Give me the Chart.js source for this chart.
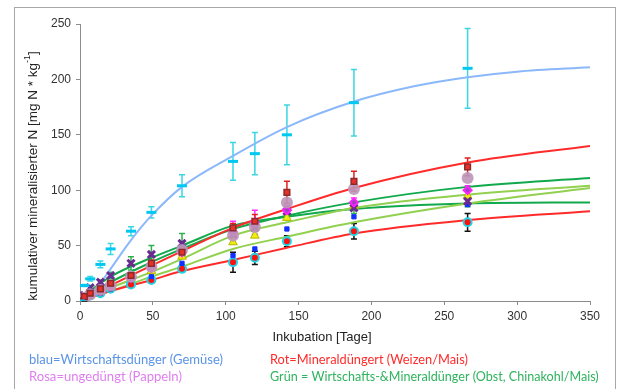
<!DOCTYPE html>
<html>
<head>
<meta charset="utf-8">
<script src="https://cdn.jsdelivr.net/npm/chart.js@4.4.1/dist/chart.umd.min.js"></script>
<style>
  html, body { margin: 0; padding: 0; background: #fff; }
  #wrap { width: 618px; height: 389px; }
</style>
</head>
<body>
<div id="wrap"><canvas id="chart" width="618" height="389"></canvas></div>
<script>
// Probenahme-Tage
var tage = [0, 3, 7, 14, 21, 35, 49, 70, 105, 120, 142, 188, 266];

var gemuese     = [0, 14, 20, 33, 47, 63, 80, 104, 126, 133, 150, 179, 210];
var gemueseErr  = [0, 1, 2, 3, 5, 4, 5, 10, 17, 19, 27, 30, 36];
var rotQuadrat  = [0, 4, 7, 11, 16, 23, 34, 44, 66, 72, 98, 108, 121];
var rotQuadErr  = [0, 1, 1, 2, 2, 3, 3, 4, 4, 6, 10, 9, 8];
var malve       = [0, 3, 6, 10, 14, 22, 31, 46, 59, 67, 89, 101, 111];
var rosa        = [0, 3, 6, 10, 14, 21, 30, 44, 62, 71, 82, 89, 100];
var rosaErr     = [0, 1, 1, 2, 2, 3, 3, 4, 10, 11, 4, 4, 4];
var lila        = [0, 5, 12, 17, 23, 34, 42, 52, 60, 66, 81, 84, 90];
var lilaErr     = [0, 1, 2, 2, 3, 6, 8, 9, 8, 6, 5, 5, 5];
var gelb        = [0, 3, 5, 9, 13, 21, 27, 40, 53, 59, 75, 86, 95];
var blau        = [0, 2, 4, 7, 11, 20, 22, 34, 41, 47, 65, 76, 87];
var rotKreis    = [0, 1, 5, 7, 11, 15, 19, 29, 35, 39, 54, 63, 71];
var rotKreisErr = [0, 1, 1, 1, 2, 2, 2, 3, 9, 6, 5, 7, 8];

// Anpassungskurven
var fitBlauTage = [3, 9, 14, 21, 35, 49, 70, 105, 142, 188, 230, 266, 300, 350];
var fitBlau     = [0, 8, 16, 29, 55, 77, 103, 131, 157, 180, 194, 202, 207, 211];
var fitTage     = [0, 7, 21, 49, 70, 105, 142, 188, 266, 350];
var fitRotOben  = [0, 4, 14, 32, 45, 66, 83, 102, 125, 140];
var fitRotUnten = [0, 3, 9, 19, 27, 37, 48, 61, 73, 81];
var fitGruenA   = [0, 9, 22, 39, 50, 68, 76, 83, 88, 89];
var fitGruenB   = [0, 6, 17, 35, 47, 65, 77, 89, 103, 111];
var fitHellA    = [0, 4, 12, 26, 38, 59, 71, 84, 96, 104];
var fitHellB    = [0, 3, 9, 22, 31, 47, 58, 71, 88, 102];

function punkte(xs, ys) {
    var out = [];
    for (var i = 0; i < xs.length; i++) out.push({ x: xs[i], y: ys[i] });
    return out;
}

function kurve(xs, ys, farbe) {
    return {
        data: punkte(xs, ys), showLine: true, borderColor: farbe, borderWidth: 2,
        pointRadius: 0, cubicInterpolationMode: 'monotone', order: 20
    };
}

function marker(ys, opts) {
    var ds = { data: punkte(tage, ys), showLine: false, order: 5 };
    for (var k in opts) ds[k] = opts[k];
    return ds;
}

var datasets = [
    kurve(fitBlauTage, fitBlau, '#8ab8fb'),
    kurve(fitTage, fitRotOben, '#ff2a2a'),
    kurve(fitTage, fitRotUnten, '#ff2a2a'),
    kurve(fitTage, fitHellA, '#92d050'),
    kurve(fitTage, fitHellB, '#92d050'),
    kurve(fitTage, fitGruenA, '#12a94c'),
    kurve(fitTage, fitGruenB, '#12a94c'),
    marker(rotKreis, { pointStyle: 'circle', pointRadius: 4, backgroundColor: '#ff1010', borderColor: '#20d4e4', borderWidth: 2, err: rotKreisErr, errColor: '#111', order: 9 }),
    marker(blau, { pointStyle: 'rect', pointRadius: 3, backgroundColor: '#1030ff', borderColor: '#1030ff', borderWidth: 1, order: 8 }),
    marker(gelb, { pointStyle: 'triangle', pointRadius: 5, backgroundColor: '#eeee10', borderColor: '#b8b800', borderWidth: 1, order: 7 }),
    marker(lila, { pointStyle: 'crossRot', pointRadius: 5, borderColor: '#6a2a90', borderWidth: 3, err: lilaErr, errColor: '#30b050', order: 6 }),
    marker(rosa, { pointStyle: 'rectRot', pointRadius: 4, backgroundColor: '#a040c0', borderColor: '#ff20ff', borderWidth: 2, err: rosaErr, errColor: '#ff30ff', order: 5 }),
    marker(malve, { pointStyle: 'circle', pointRadius: 6, backgroundColor: 'rgba(190,150,185,0.9)', borderColor: 'rgba(190,150,185,0.9)', borderWidth: 0, order: 4 }),
    marker(rotQuadrat, { pointStyle: 'rect', pointRadius: 4, backgroundColor: '#e8302a', borderColor: '#8a2a2a', borderWidth: 1.5, err: rotQuadErr, errColor: '#e02020', order: 3 }),
    marker(gemuese, { pointStyle: 'line', pointRadius: 5, borderColor: '#00c8f0', borderWidth: 3, err: gemueseErr, errColor: '#3ad6e2', order: 2 })
];

// Fehlerbalken + Rahmen + Texte
var zusatz = {
    id: 'zusatz',
    beforeDatasetsDraw: function (chart) {
        var ctx = chart.ctx, xs = chart.scales.x, ys = chart.scales.y;
        chart.data.datasets.forEach(function (ds) {
            if (!ds.err) return;
            ctx.save();
            ctx.strokeStyle = ds.errColor;
            ctx.lineWidth = 1.5;
            for (var i = 0; i < ds.data.length; i++) {
                var e = ds.err[i];
                if (!e) continue;
                var px = xs.getPixelForValue(ds.data[i].x);
                var top = ys.getPixelForValue(ds.data[i].y + e);
                var bot = ys.getPixelForValue(ds.data[i].y - e);
                ctx.beginPath();
                ctx.moveTo(px, top); ctx.lineTo(px, bot);
                ctx.moveTo(px - 3, top); ctx.lineTo(px + 3, top);
                ctx.moveTo(px - 3, bot); ctx.lineTo(px + 3, bot);
                ctx.stroke();
            }
            ctx.restore();
        });
    },
    afterDraw: function (chart) {
        var ctx = chart.ctx;
        ctx.save();
        ctx.strokeStyle = '#a8a8a8';
        ctx.lineWidth = 1;
        ctx.strokeRect(14.5, 7.5, 601, 400);

        // Achsentitel
        ctx.fillStyle = '#222';
        ctx.font = '13px "Liberation Sans", Arial, sans-serif';
        ctx.textBaseline = 'middle';
        ctx.textAlign = 'center';
        ctx.fillText('Inkubation [Tage]', 322, 337);

        ctx.save();
        ctx.translate(33, 176);
        ctx.rotate(-Math.PI / 2);
        var t1 = 'kumulativer mineralisierter N [mg N * kg', t2 = '-1', t3 = ']';
        ctx.font = '13.5px "Liberation Sans", Arial, sans-serif';
        var w1 = ctx.measureText(t1).width, w3 = ctx.measureText(t3).width;
        ctx.font = '9px "Liberation Sans", Arial, sans-serif';
        var w2 = ctx.measureText(t2).width;
        var x0 = -(w1 + w2 + w3) / 2;
        ctx.textAlign = 'left';
        ctx.font = '13.5px "Liberation Sans", Arial, sans-serif';
        ctx.fillText(t1, x0, 0);
        ctx.font = '9px "Liberation Sans", Arial, sans-serif';
        ctx.fillText(t2, x0 + w1, -5);
        ctx.font = '13.5px "Liberation Sans", Arial, sans-serif';
        ctx.fillText(t3, x0 + w1 + w2, 0);
        ctx.restore();

        // Legende als Text
        var zeilen = [
            ['blau=Wirtschaftsdünger (Gemüse)', '#5a94e6', 29, 360, 194],
            ['Rot=Mineraldüngert (Weizen/Mais)', '#ff2a2a', 270, 360, 198],
            ['Rosa=ungedüngt (Pappeln)', '#e07ef0', 29, 377, 153],
            ['Grün = Wirtschafts-&Mineraldünger (Obst, Chinakohl/Mais)', '#2fb35e', 270, 377, 329]
        ];
        ctx.textAlign = 'left';
        zeilen.forEach(function (z) {
            ctx.font = '13px Lato, sans-serif';
            var w = ctx.measureText(z[0]).width;
            var size = 13 * z[4] / w;
            ctx.font = size.toFixed(2) + 'px Lato, sans-serif';
            ctx.fillStyle = z[1];
            ctx.fillText(z[0], z[2], z[3]);
        });
        ctx.restore();
    }
};

new Chart(document.getElementById('chart'), {
    type: 'scatter',
    data: { datasets: datasets },
    options: {
        responsive: false,
        animation: false,
        layout: { padding: { top: 24, right: 28, left: 0, bottom: 0 } },
        plugins: { legend: { display: false }, tooltip: { enabled: false } },
        scales: {
            x: {
                type: 'linear', min: 0, max: 350,
                afterFit: function (s) { s.height = 88; },
                ticks: { stepSize: 50, color: '#333', padding: 4, font: { size: 12, family: '"Liberation Sans", Arial' } },
                grid: { drawOnChartArea: false, drawTicks: true, tickLength: 4, color: '#8c8c8c' },
                border: { color: '#8c8c8c' }
            },
            y: {
                min: 0, max: 250,
                afterFit: function (s) { s.width = 80; },
                ticks: { stepSize: 50, color: '#333', padding: 5, font: { size: 12, family: '"Liberation Sans", Arial' } },
                grid: { drawOnChartArea: false, drawTicks: true, tickLength: 4, color: '#8c8c8c' },
                border: { color: '#8c8c8c' }
            }
        }
    },
    plugins: [zusatz]
});
</script>
</body>
</html>
